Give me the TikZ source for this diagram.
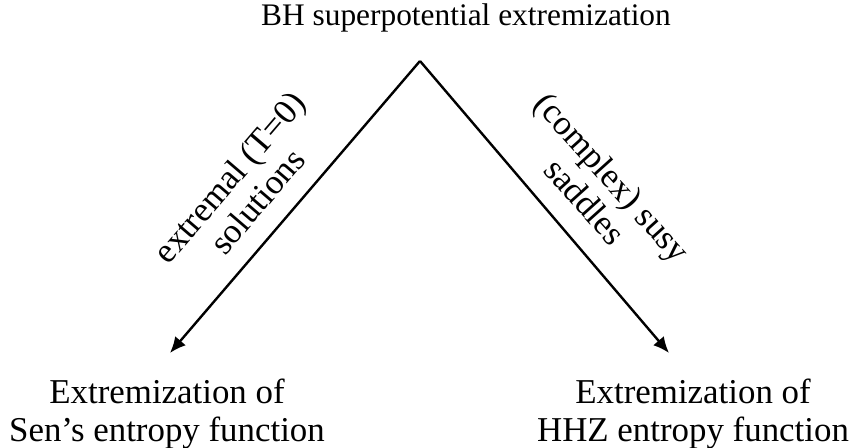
\documentclass[tikz,border=0pt]{standalone}
\usepackage{fontspec}
\setmainfont{Liberation Serif}
\usetikzlibrary{arrows.meta}
\tikzset{
  txt/.style={inner sep=0pt, font=\fontsize{35}{38}\selectfont},
  ttl/.style={inner sep=0pt, font=\fontsize{31.5}{34}\selectfont},
  lbl/.style={inner sep=0pt, align=center, font=\fontsize{35}{37}\selectfont},
  conn/.style={line width=2.4bp, -{Latex[length=16bp,width=14bp]}}
}
\begin{document}
\begin{tikzpicture}[x=1bp,y=-1bp]
\useasboundingbox (0,0) rectangle (856,448);
\node[ttl, anchor=base] (title) at (466,26) {BH superpotential extremization};
\coordinate (apex) at (420,61);
\coordinate (tipL) at (170,353);
\coordinate (tipR) at (669,353);
\draw[conn] (apex) -- (tipL);
\draw[conn] (apex) -- (tipR);
\node[lbl, rotate=49.4] (labL) at (243,189) {extremal (T=0)\\solutions};
\node[lbl, rotate=-48] (labR) at (599,189) {(complex) susy\\saddles};
\node[txt, anchor=base] (senA) at (167,403) {Extremization of};
\node[txt, anchor=base] (senB) at (167,441) {Sen's entropy function};
\node[txt, anchor=base] (hhzA) at (693,403) {Extremization of};
\node[txt, anchor=base] (hhzB) at (693,441) {HHZ entropy function};
\end{tikzpicture}
\end{document}
